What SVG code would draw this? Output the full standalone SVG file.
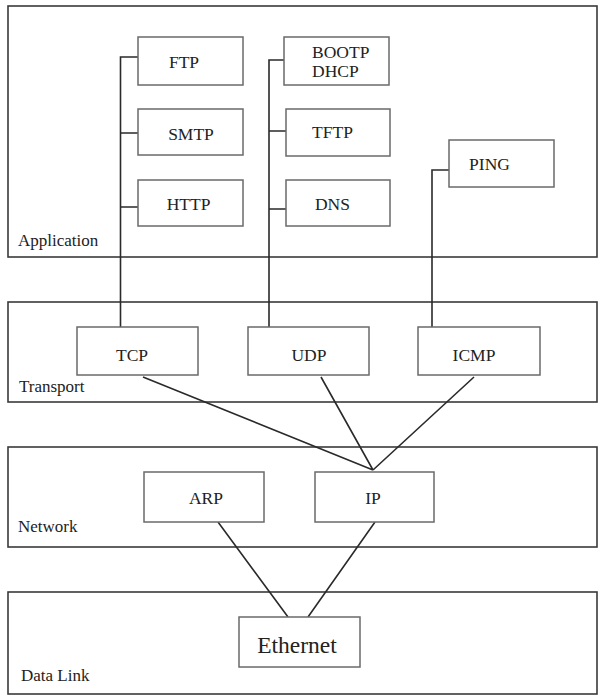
<svg xmlns="http://www.w3.org/2000/svg" width="600" height="698" viewBox="0 0 600 698">
<style>
.layer{fill:#fff;stroke:#3a3a3a;stroke-width:1.6}
.node{fill:#fff;stroke:#6a6a6a;stroke-width:1.5}
.t{font-family:"Liberation Serif","Times New Roman",serif;font-size:17.5px;fill:#222;text-anchor:middle}
.lbl{font-family:"Liberation Serif","Times New Roman",serif;font-size:17px;fill:#222}
.c{fill:none;stroke:#2a2a2a;stroke-width:1.6}
</style>
<rect width="600" height="698" fill="#fff"/>
<g id="layer-application"><rect class="layer" x="8" y="6" width="589" height="251"/><text class="lbl" x="18" y="246">Application</text></g>
<g id="layer-transport"><rect class="layer" x="8" y="302" width="589" height="100"/><text class="lbl" x="19" y="392">Transport</text></g>
<g id="layer-network"><rect class="layer" x="8" y="447" width="589" height="100"/><text class="lbl" x="18" y="532">Network</text></g>
<g id="layer-datalink"><rect class="layer" x="8" y="592" width="589" height="102"/><text class="lbl" x="21" y="681">Data Link</text></g>
<g id="connectors">
<path class="c" d="M120.5 327V57H138M120.5 133H138M120.5 207H138"/>
<path class="c" d="M269 327V60H284M269 131H286M269 209H286"/>
<path class="c" d="M432 327V170H449"/>
<path class="c" d="M143 377L373 470M321 377L373 470M474 377L373 470"/>
<path class="c" d="M218 522L288 617M375 522L308 617"/>
</g>
<g id="ftp"><rect class="node" x="138" y="37" width="105" height="48"/><text class="t" x="184" y="68">FTP</text></g>
<g id="smtp"><rect class="node" x="138" y="109" width="105" height="46"/><text class="t" x="191" y="140">SMTP</text></g>
<g id="http"><rect class="node" x="138" y="180" width="105" height="46"/><text class="t" x="188.5" y="210">HTTP</text></g>
<g id="bootp"><rect class="node" x="284" y="37" width="105" height="48"/><text class="t" x="312" y="58" style="text-anchor:start">BOOTP</text><text class="t" x="312" y="77" style="text-anchor:start">DHCP</text></g>
<g id="tftp"><rect class="node" x="286" y="109" width="104" height="47"/><text class="t" x="332.5" y="138">TFTP</text></g>
<g id="dns"><rect class="node" x="286" y="180" width="104" height="46"/><text class="t" x="332.5" y="210">DNS</text></g>
<g id="ping"><rect class="node" x="449" y="140" width="105" height="47"/><text class="t" x="489.5" y="170">PING</text></g>
<g id="tcp"><rect class="node" x="77" y="327" width="121" height="48"/><text class="t" x="132" y="361">TCP</text></g>
<g id="udp"><rect class="node" x="248" y="327" width="121" height="48"/><text class="t" x="309" y="361">UDP</text></g>
<g id="icmp"><rect class="node" x="418" y="327" width="122" height="48"/><text class="t" x="474" y="361">ICMP</text></g>
<g id="arp"><rect class="node" x="144" y="472" width="120" height="50"/><text class="t" x="206" y="504">ARP</text></g>
<g id="ip"><rect class="node" x="315" y="472" width="119" height="50"/><text class="t" x="373" y="504">IP</text></g>
<g id="ethernet"><rect class="node" x="239" y="617" width="121" height="50"/><text class="t" x="297" y="653" style="font-size:23.5px">Ethernet</text></g>
</svg>
